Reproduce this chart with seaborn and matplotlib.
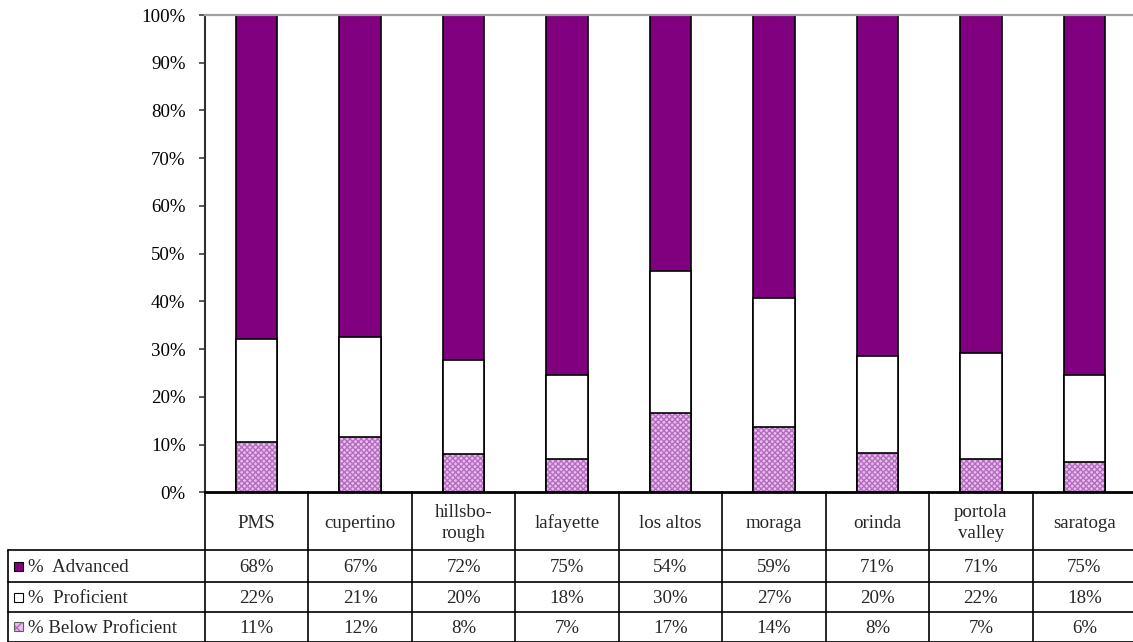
import matplotlib
matplotlib.use("Agg")
import matplotlib.pyplot as plt
import seaborn as sns
import numpy as np
from matplotlib.patches import Rectangle
from matplotlib.lines import Line2D

categories = ["PMS", "cupertino", "hillsbo-\nrough", "lafayette", "los altos",
              "moraga", "orinda", "portola\nvalley", "saratoga"]
below_proficient = [10.6, 11.6, 8.1, 7.0, 16.6, 13.7, 8.2, 7.0, 6.4]
proficient = [21.6, 21.0, 19.6, 17.6, 29.7, 27.1, 20.4, 22.1, 18.2]
advanced = [67.8, 67.4, 72.3, 75.4, 53.7, 59.2, 71.4, 70.9, 75.4]
series_names = ["%  Advanced", "%  Proficient", "% Below Proficient"]
y_ticks = [0, 10, 20, 30, 40, 50, 60, 70, 80, 90, 100]

PURPLE = "#800080"
PINK = "#E8BEEA"
HATCH_C = "#B46CC0"
FS = 13.6

sns.set_theme(style="white")
plt.rcParams["font.family"] = ["Liberation Serif", "DejaVu Serif"]
plt.rcParams["hatch.linewidth"] = 1.0

W, H = 1133, 642
fig = plt.figure(figsize=(W / 100, H / 100), dpi=100)
ax_left, ax_right, ax_top, ax_bottom = 205, 1136, 15, 492.3
ax = fig.add_axes([ax_left / W, 1 - ax_bottom / H, (ax_right - ax_left) / W, (ax_bottom - ax_top) / H])

below = np.array(below_proficient)
prof_top = below + np.array(proficient)
total = prof_top + np.array(advanced)

x_idx = list(range(len(categories)))
sns.barplot(x=x_idx, y=total, color=PURPLE, saturation=1, width=0.4,
            edgecolor="black", linewidth=1.2, ax=ax)
sns.barplot(x=x_idx, y=prof_top, color="white", saturation=1, width=0.4,
            edgecolor="black", linewidth=1.2, ax=ax)
sns.barplot(x=x_idx, y=below, color=PINK, saturation=1, width=0.4,
            edgecolor=HATCH_C, linewidth=0, hatch="xxxxxx", ax=ax)
n1 = len(ax.patches)
sns.barplot(x=x_idx, y=below, color="white", saturation=1, width=0.4,
            edgecolor="black", linewidth=1.2, ax=ax)
for p in ax.patches[n1:]:
    p.set_facecolor("none")

ax.set_xlim(-0.5, len(categories) - 0.5)
ax.set_ylim(0, 100)
ax.set_yticks(y_ticks)
ax.set_yticklabels([f"{t}%" for t in y_ticks], fontsize=FS)
ax.set_xticks([])
ax.set_xlabel("")
ax.set_ylabel("")
ax.tick_params(axis="y", left=True, length=4, width=1.2, color="#404040", pad=10, labelcolor="black")
ax.spines["right"].set_visible(False)
ax.spines["left"].set_color("#303030")
ax.spines["left"].set_linewidth(1.5)
ax.spines["bottom"].set_color("black")
ax.spines["bottom"].set_linewidth(2)
ax.spines["top"].set_color("#A0A0A0")
ax.spines["top"].set_linewidth(1.6)

# ---- data table ----
def fx(px):
    return px / W

def fy(py):
    return 1 - py / H

cw = (ax_right - ax_left) / len(categories)
col_edges = [ax_left + k * cw for k in range(len(categories) + 1)]
row_edges = [492.3, 550, 582, 612, 641.5]
leg_left = 8
lc = "black"
lw = 1.2

for xe in col_edges:
    fig.add_artist(Line2D([fx(xe), fx(xe)], [fy(row_edges[0]), fy(row_edges[-1])], color=lc, lw=lw))
fig.add_artist(Line2D([fx(leg_left), fx(leg_left)], [fy(row_edges[1]), fy(row_edges[-1])], color=lc, lw=lw))
for ye in row_edges[1:]:
    fig.add_artist(Line2D([fx(leg_left), fx(ax_right)], [fy(ye), fy(ye)], color=lc, lw=lw))

for i, c in enumerate(categories):
    cx = ax_left + (i + 0.5) * cw
    fig.text(fx(cx), fy((row_edges[0] + row_edges[1]) / 2 + 2), c, ha="center", va="center",
             fontsize=FS, linespacing=1.35)

rows = [advanced, proficient, below_proficient]
for r, vals in enumerate(rows):
    cy = (row_edges[r + 1] + row_edges[r + 2]) / 2
    for i, v in enumerate(vals):
        cx = ax_left + (i + 0.5) * cw
        fig.text(fx(cx), fy(cy + 1.5), f"{int(round(v))}%", ha="center", va="center", fontsize=FS)
    fig.text(fx(28), fy(cy + 1.5), series_names[r], ha="left", va="center", fontsize=FS)

sw = 9
sw_styles = [dict(facecolor=PURPLE, edgecolor="black"),
             dict(facecolor="white", edgecolor="black"),
             dict(facecolor=PINK, edgecolor=HATCH_C, hatch="xxx")]
for r, st in enumerate(sw_styles):
    cy = (row_edges[r + 1] + row_edges[r + 2]) / 2
    x0, y0 = 13.5, cy - sw / 2
    rect = Rectangle((fx(x0), fy(y0 + sw)), fx(sw), sw / H, transform=fig.transFigure,
                     lw=0.8 if r < 2 else 0, **st)
    fig.add_artist(rect)
    if r == 2:
        fig.add_artist(Rectangle((fx(x0), fy(y0 + sw)), fx(sw), sw / H, transform=fig.transFigure,
                                 facecolor="none", edgecolor="#606060", lw=0.8))

fig.savefig("out.png", dpi=100)
